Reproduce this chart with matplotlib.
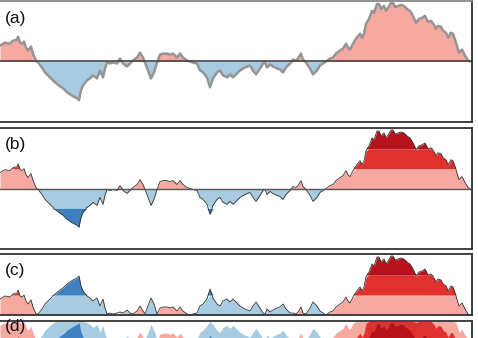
import numpy as np
import matplotlib
matplotlib.use("Agg")
import matplotlib.pyplot as plt

# ---- data (time index, value) ----
t = [0,5,10,13,17,18,20,22,24,26,
     28,31,33,36,38,42,45,50,55,60,
     63,67,70,73,77,79,81,83,87,90,
     93,97,100,103,105,107,110,113,117,120,
     123,127,130,133,137,140,143,145,148,151,
     154,157,160,163,167,170,173,177,180,183,
     187,190,193,197,200,203,207,210,213,217,
     220,223,227,230,233,237,240,245,250,253,
     256,260,263,265,267,270,273,277,280,283,
     286,290,293,296,298,301,303,306,310,313,
     317,320,323,326,330,333,336,340,343,346,
     348,350,353,356,360,362,364,366,369,372,
     374,377,379,381,384,386,388,391,393,395,
     398,401,404,407,410,413,416,419,422,425,
     428,431,434,436,438,441,443,446,448,451,
     453,456,459,462,465,468,470]
values = [16,19,18,21,22,25,19,18,20,14,
          11,15,8,1,-1,-6,-11,-16,-21,-25,
          -27,-31,-33,-35,-37,-39,-29,-24,-19,-17,
          -14,-17,-9,-16,-7,-1,-2,-1,-2,3,
          -2,-5,-2,1,4,9,4,-1,-9,-17,
          -11,-1,7,8,8,7,8,4,8,4,
          1,0,-1,-2,-9,-11,-16,-26,-17,-11,
          -9,-14,-16,-13,-16,-12,-9,-6,-4,-9,
          -13,-7,-2,-1,-6,-3,-5,-7,-8,-11,
          -6,-2,2,1,3,8,2,-1,-7,-13,
          -9,-4,-2,0,3,4,8,11,13,18,
          14,12,18,23,28,24,28,38,43,51,
          49,58,58,53,56,51,54,59,59,55,
          56,57,56,53,51,46,39,43,44,46,
          40,41,37,33,36,35,31,29,24,29,
          28,19,9,12,6,1,0]
band_size = 20
n_bands = 3
panel_labels = ["(a)", "(b)", "(c)", "(d)"]

reds = ["#f5a9a0", "#e0312f", "#b5121b"]
blues = ["#a7cbe1", "#3f80c3", "#1f4f99"]

t = np.array(t, float)
v = np.array(values, float)
assert len(t) == len(v)
pos = np.clip(v, 0, None)
neg = np.clip(-v, 0, None)

W, H = 478, 338
fig = plt.figure(figsize=(W / 100, H / 100), dpi=100)
plt.rcParams['font.family'] = ['Liberation Sans', 'DejaVu Sans']

def ax_px(top, bottom, left=-3, right=472):
    return fig.add_axes([left / W, (H - bottom) / H, (right - left) / W, (bottom - top) / H])

def style(ax, lab, ylim, off=10):
    ax.set_xlim(-3, 472)
    ax.set_ylim(*ylim)
    ax.set_xticks([]); ax.set_yticks([])
    for s in ax.spines.values():
        s.set_color("#333333"); s.set_linewidth(1.3)
    ax.text(8 / 475, 1 - off / (ax.bbox.height), lab, transform=ax.transAxes,
            ha="left", va="top", fontsize=12.5, color="#111111")

# (a) plain area
axa = ax_px(1, 122)
axa.fill_between(t, 0, pos, color=reds[0], lw=0)
axa.fill_between(t, 0, -neg, color=blues[0], lw=0)
axa.plot(t, v, color="#959595", lw=1.8)
axa.axhline(0, color="#444444", lw=1.2)
style(axa, panel_labels[0], (-61, 61))
axa.spines["top"].set_color("#888888")

# (b) banded
axb = ax_px(128, 249)
for k in range(n_bands):
    lo, hi = k * band_size, (k + 1) * band_size
    axb.fill_between(t, lo, np.clip(pos, lo, hi), color=reds[k], lw=0)
    axb.fill_between(t, -lo, -np.clip(neg, lo, hi), color=blues[k], lw=0)
axb.plot(t, v, color="#333333", lw=0.6)
axb.axhline(0, color="#555555", lw=1.0)
style(axb, panel_labels[1], (-61, 61), off=9)

# (c) mirrored
axc = ax_px(254, 315)
for k in range(n_bands):
    lo, hi = k * band_size, (k + 1) * band_size
    axc.fill_between(t, lo, np.clip(neg, lo, hi), color=blues[k], lw=0)
    axc.fill_between(t, lo, np.clip(pos, lo, hi), color=reds[k], lw=0)
axc.plot(t, np.abs(v), color="#333333", lw=0.6)
style(axc, panel_labels[2], (0, 61), off=9)

# (d) horizon (collapsed bands)
axd = ax_px(321, 341)
for k in range(n_bands):
    lo = k * band_size
    axd.fill_between(t, 0, np.clip(neg - lo, 0, band_size), color=blues[k], lw=0)
    axd.fill_between(t, 0, np.clip(pos - lo, 0, band_size), color=reds[k], lw=0)
style(axd, panel_labels[3], (0, 20.5))
axd.texts[0].set_y(1.08)

fig.savefig("out.png", dpi=100)
